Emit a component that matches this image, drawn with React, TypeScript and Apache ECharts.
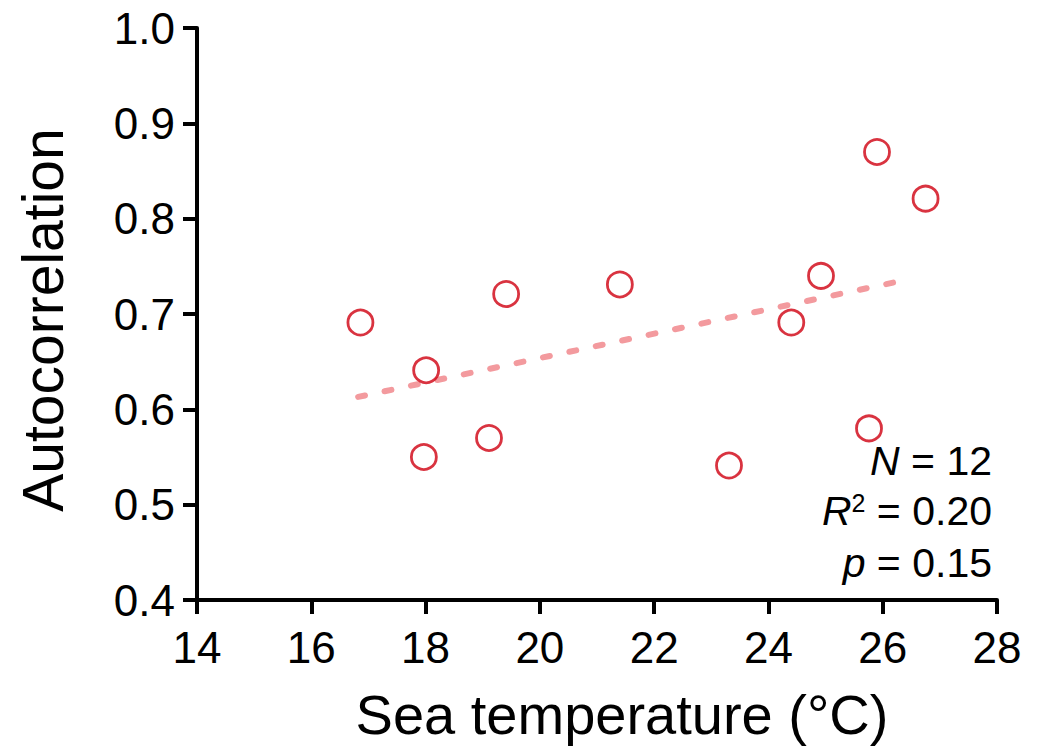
import React, { useEffect, useRef } from "react";
import * as echarts from "echarts";

const seaTemperature = [16.86, 18.01, 17.97, 19.11, 19.41, 21.4, 23.31, 24.4, 24.92, 25.76, 25.9, 26.75];
const autocorrelation = [0.691, 0.641, 0.55, 0.57, 0.721, 0.731, 0.541, 0.691, 0.74, 0.58, 0.87, 0.821];
const trendX = [16.82, 26.5];
const trendY = [0.613, 0.737];
const xTicks = { min: 14, max: 28, interval: 2 };
const yTicks = { min: 0.4, max: 1.0, interval: 0.1 };

const FONT = "'Liberation Sans', Arial, sans-serif";
const RED = "#d00010";
const PINK = "#f39a9e";

export default function App() {
  const ref = useRef<HTMLDivElement>(null);
  useEffect(() => {
    if (!ref.current) return;
    const chart = echarts.init(ref.current, undefined, { renderer: "svg" });
    const scatterData = seaTemperature.map((x, i) => [x, autocorrelation[i]]);
    const trendData = trendX.map((x, i) => [x, trendY[i]]);
    const statStyle = {
      fontFamily: FONT,
      fontSize: 41,
      fill: "#000",
      align: "right" as const,
      verticalAlign: "middle" as const,
    };
    chart.setOption({
      animation: false,
      backgroundColor: "#fff",
      grid: { left: 197, right: 43, top: 28, bottom: 149, containLabel: false },
      xAxis: {
        type: "value",
        min: xTicks.min,
        max: xTicks.max,
        interval: xTicks.interval,
        name: "Sea temperature (°C)",
        nameLocation: "middle",
        nameGap: 86,
        nameTextStyle: {
          fontFamily: FONT,
          fontSize: 56,
          color: "#000",
          padding: [0, 0, 0, 50],
        },
        axisLine: { onZero: false, lineStyle: { color: "#000", width: 4 } },
        axisTick: { show: true, length: 14, lineStyle: { color: "#000", width: 4 } },
        axisLabel: { fontFamily: FONT, fontSize: 44, color: "#000", margin: 25 },
        splitLine: { show: false },
      },
      yAxis: {
        type: "value",
        min: yTicks.min,
        max: yTicks.max,
        interval: yTicks.interval,
        name: "Autocorrelation",
        nameLocation: "middle",
        nameGap: 126,
        nameRotate: 90,
        nameTextStyle: {
          fontFamily: FONT,
          fontSize: 57,
          color: "#000",
          padding: [0, 12, 0, 0],
        },
        axisLine: { onZero: false, lineStyle: { color: "#000", width: 4 } },
        axisTick: { show: true, length: 14, lineStyle: { color: "#000", width: 4 } },
        axisLabel: {
          fontFamily: FONT,
          fontSize: 44,
          color: "#000",
          margin: 22,
          formatter: (v: number) => v.toFixed(1),
        },
        splitLine: { show: false },
      },
      series: [
        {
          type: "line",
          data: trendData,
          symbol: "none",
          z: 1,
          lineStyle: { color: PINK, width: 6, type: [7, 20], cap: "round" },
        },
        {
          type: "scatter",
          data: scatterData,
          symbol: "circle",
          symbolSize: 25,
          z: 3,
          itemStyle: { color: "rgba(255,255,255,0)", borderColor: RED, borderWidth: 2.8 },
        },
      ],
      graphic: [
        {
          type: "text",
          x: 992,
          y: 461,
          style: {
            ...statStyle,
            text: "{i|N} = 12",
            rich: { i: { fontFamily: FONT, fontSize: 41, fontStyle: "italic" } },
          },
        },
        {
          type: "text",
          x: 992,
          y: 511,
          style: {
            ...statStyle,
            text: "{i|R}{s|2} = 0.20",
            rich: {
              i: { fontFamily: FONT, fontSize: 41, fontStyle: "italic" },
              s: { fontFamily: FONT, fontSize: 25, verticalAlign: "top", padding: [0, 0, 14, 0] },
            },
          },
        },
        {
          type: "text",
          x: 992,
          y: 563,
          style: {
            ...statStyle,
            text: "{i|p} = 0.15",
            rich: { i: { fontFamily: FONT, fontSize: 41, fontStyle: "italic" } },
          },
        },
      ],
    });
    return () => chart.dispose();
  }, []);
  return (
    <div
      ref={ref}
      style={{ position: "fixed", left: 0, top: 0, width: 1040, height: 749 }}
    />
  );
}
